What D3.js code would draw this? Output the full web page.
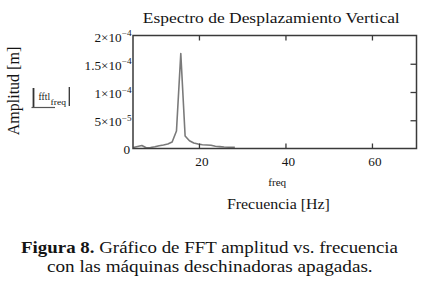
<!DOCTYPE html>
<html>
<head>
<meta charset="utf-8">
<script src="https://cdn.jsdelivr.net/npm/d3@7"></script>
<style>
  html, body { margin: 0; padding: 0; background: #ffffff; }
  svg { display: block; font-family: "Liberation Serif", "Times New Roman", serif; }
  svg text, svg tspan { font-family: "Liberation Serif", "Times New Roman", serif !important; fill: #141414; }
</style>
</head>
<body>
<svg id="chart" width="423" height="285"></svg>
<script>
// ---- data ----
const freq = [4.8, 5.8, 6.8, 7.8, 8.8, 9.8, 10.8, 11.8, 12.8, 13.8, 14.8, 15.8, 16.8,
              17.8, 18.8, 19.8, 20.8, 21.8, 22.8, 23.8, 24.8, 25.8, 26.8, 27.8, 28.3];
const amplitude = [1.8e-6, 3.5e-6, 5.3e-6, 1.2e-6, 1.8e-6, 3.0e-6, 4.8e-6, 6.2e-6, 8.0e-6,
                   1.15e-5, 3.1e-5, 1.68e-4, 2.2e-5, 1.38e-5, 9.7e-6, 8.0e-6, 6.7e-6, 6.2e-6,
                   5.7e-6, 4.0e-6, 3.4e-6, 2.7e-6, 2.3e-6, 2.0e-6, 2.0e-6];
const xTicks = [20, 40, 60];
const yTicks = [0, 5e-5, 1e-4, 1.5e-4, 2e-4];
const yTickMantissa = ["0", "5×10", "1×10", "1.5×10", "2×10"];
const yTickExponent = ["", "−5", "−4", "−4", "−4"];
const xDomain = [4.75, 70.3];
const yDomain = [0, 2e-4];

const titleText = "Espectro de Desplazamiento Vertical";
const yAxisTitle = "Amplitud [m]";
const xAxisInner = "freq";
const xAxisTitle = "Frecuencia [Hz]";
const captionBold = "Figura 8.";
const captionLine1 = " Gráfico de FFT amplitud vs. frecuencia";
const captionLine2 = "con las máquinas deschinadoras apagadas.";

// ---- layout ----
const svg = d3.select("#chart");
const L = 133, R = 416.5, T = 35.5, B = 148.5;
const frameColor = "#3a3a3a";

const x = d3.scaleLinear().domain(xDomain).range([L, R]);
const y = d3.scaleLinear().domain(yDomain).range([B, T]);

function fitText(sel, cx, baseline, width) {
  const node = sel.node();
  const w = node.getComputedTextLength();
  const s = width / w;
  sel.attr("text-anchor", "start")
     .attr("x", 0).attr("y", 0)
     .attr("transform", `translate(${cx - width / 2},${baseline}) scale(${s},1)`);
}

svg.append("defs").append("clipPath").attr("id", "clip")
  .append("rect").attr("x", L).attr("y", T).attr("width", R - L).attr("height", B - T);

// data line
const line = d3.line().x((d, i) => x(freq[i])).y(d => y(d));
svg.append("path")
  .datum(amplitude)
  .attr("clip-path", "url(#clip)")
  .attr("d", line)
  .attr("fill", "none")
  .attr("stroke", "#7a7a7a")
  .attr("stroke-width", 1.6)
  .attr("stroke-linejoin", "round");

// axes
const axBottom = svg.append("g").attr("transform", `translate(0,${B})`)
  .call(d3.axisBottom(x).tickValues(xTicks).tickSize(-5).tickSizeOuter(0).tickFormat(d3.format("d")));
const axTop = svg.append("g").attr("transform", `translate(0,${T})`)
  .call(d3.axisTop(x).tickValues(xTicks).tickSize(-5).tickSizeOuter(0).tickFormat(""));
const axRight = svg.append("g").attr("transform", `translate(${R},0)`)
  .call(d3.axisRight(y).tickValues(yTicks.slice(1, 4)).tickSize(-6).tickSizeOuter(0).tickFormat(""));
const axLeft = svg.append("g").attr("transform", `translate(${L},0)`)
  .call(d3.axisLeft(y).tickValues(yTicks).tickSize(0).tickSizeOuter(0).tickFormat(""));

[axBottom, axTop, axRight, axLeft].forEach(g => {
  g.attr("font-family", null).attr("font-size", null);
  g.select(".domain").remove();
  g.selectAll(".tick line").attr("stroke", frameColor).attr("stroke-width", 1.3);
});

axBottom.selectAll(".tick text")
  .attr("fill", "#141414")
  .style("font-size", "12px")
  .attr("text-anchor", "middle")
  .attr("dy", null)
  .attr("y", 0)
  .attr("transform", "translate(2.5,17.5) scale(1.1,1)");

axLeft.selectAll(".tick text").remove();
axLeft.selectAll(".tick").each(function(d, i) {
  const t = d3.select(this).append("text")
    .attr("text-anchor", "end")
    .attr("transform", i === 0 ? "translate(-3,5) scale(1.15,1)" : "translate(-1.5,5.5) scale(1.15,1)")
    .style("font-size", "11.5px");
  t.append("tspan").text(yTickMantissa[i]);
  if (yTickExponent[i]) {
    t.append("tspan").attr("dy", -5.5).style("font-size", "8px").text(yTickExponent[i]);
  }
});

// frame
svg.append("rect")
  .attr("x", L).attr("y", T).attr("width", R - L).attr("height", B - T)
  .attr("fill", "none").attr("stroke", frameColor).attr("stroke-width", 1.5);

// title
fitText(svg.append("text").style("font-size", "15.5px").text(titleText), 271.3, 23, 257);

// x labels
fitText(svg.append("text").style("font-size", "10px").text(xAxisInner), 277.2, 186, 18);
fitText(svg.append("text").style("font-size", "14.5px").text(xAxisTitle), 278.4, 208.5, 103);

// y axis title
svg.append("text")
  .attr("transform", "translate(19,91) rotate(-90)")
  .attr("text-anchor", "middle")
  .style("font-size", "16px")
  .text(yAxisTitle);

// |fft|_freq label
const lab = svg.append("g");
lab.append("line").attr("x1", 33.5).attr("x2", 33.5).attr("y1", 88).attr("y2", 107)
  .attr("stroke", "#333").attr("stroke-width", 1.8);
lab.append("line").attr("x1", 31.5).attr("x2", 55).attr("y1", 107.5).attr("y2", 107.5)
  .attr("stroke", "#555").attr("stroke-width", 1.2);
lab.append("line").attr("x1", 69.3).attr("x2", 69.3).attr("y1", 87).attr("y2", 106)
  .attr("stroke", "#333").attr("stroke-width", 1.3);
fitText(lab.append("text").style("font-size", "10px").text("fftl"), 44.3, 100, 11.5);
fitText(lab.append("text").style("font-size", "8px").text("freq"), 58.3, 105, 15.5);

// caption
const cap1 = svg.append("text").style("font-size", "16.5px");
cap1.append("tspan").style("font-weight", "bold").text(captionBold);
cap1.append("tspan").text(captionLine1);
{
  const w = cap1.node().getBBox().width;
  const target = 378, s = target / w;
  cap1.attr("x", 0).attr("y", 0)
      .attr("transform", `translate(${210 - target / 2},253) scale(${s},1)`);
}
fitText(svg.append("text").style("font-size", "16.5px").text(captionLine2), 210, 271.5, 326);
</script>
</body>
</html>
